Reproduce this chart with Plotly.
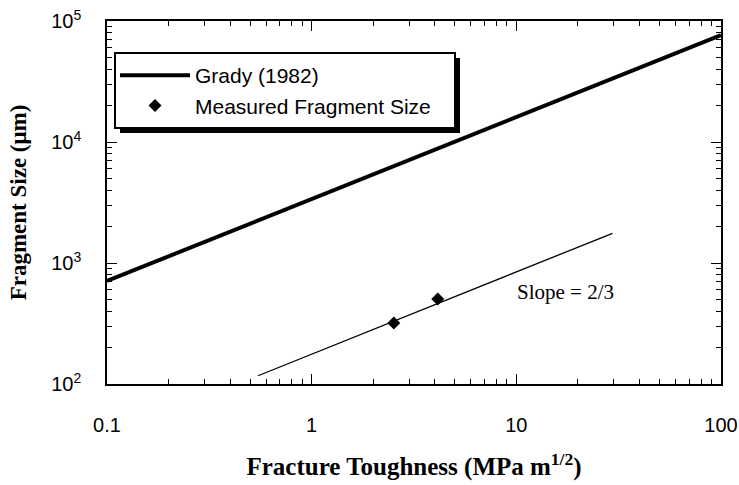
import plotly.graph_objects as go

# Data
grady_x = [0.1, 100]
grady_y = [710, 76600]
slope_x = [0.547, 29.5]
slope_y = [117, 1760]
meas_x = [2.52, 4.13]
meas_y = [319, 503]

x_tickvals = [0.1, 1, 10, 100]
x_ticktext = ["0.1", "1", "10", "100"]
y_tickvals = [100, 1000, 10000, 100000]
y_ticktext = ["10<sup>2</sup>", "10<sup>3</sup>", "10<sup>4</sup>", "10<sup>5</sup>"]

x_minor = [m * 10 ** e for e in (-1, 0, 1) for m in range(2, 10)]
y_minor = [m * 10 ** e for e in (2, 3, 4) for m in range(2, 10)]

fig = go.Figure()
fig.add_trace(go.Scatter(x=grady_x, y=grady_y, mode="lines", name="Grady (1982)",
                         line=dict(color="black", width=4)))
fig.add_trace(go.Scatter(x=meas_x, y=meas_y, mode="markers", name="Measured Fragment Size",
                         marker=dict(symbol="diamond", color="black", size=10)))
fig.add_trace(go.Scatter(x=slope_x, y=slope_y, mode="lines", showlegend=False,
                         line=dict(color="black", width=1.3)))

fig.add_annotation(x=1.242, y=2.76, xref="x", yref="y", text="Slope = 2/3", showarrow=False,
                   font=dict(family="Liberation Serif", size=21, color="black"))

# legend frame: drop shadow + white box with black border
fig.add_shape(type="rect", xref="paper", yref="paper",
              x0=0.0212, x1=0.5749, y0=0.6915, y1=0.898,
              fillcolor="black", line=dict(width=0), layer="above")
fig.add_shape(type="rect", xref="paper", yref="paper",
              x0=0.013, x1=0.5668, y0=0.7052, y1=0.9118,
              fillcolor="white", line=dict(color="black", width=2), layer="above")

axis_common = dict(
    type="log", showgrid=False, zeroline=False, showline=True, linecolor="black",
    linewidth=1.5, mirror="allticks", ticks="inside", ticklen=10, tickwidth=1.3,
    tickcolor="black", automargin=False, tickmode="array", ticklabeloverflow="allow",
    tickfont=dict(family="Liberation Sans", size=20, color="black"),
)

fig.update_layout(
    xaxis=dict(**axis_common, range=[-1, 2], tickvals=x_tickvals,
               ticktext=x_ticktext, ticklabelstandoff=22,
               minor=dict(tickmode="array", tickvals=x_minor, ticks="inside", ticklen=5,
                          tickwidth=1.2, tickcolor="black", showgrid=False),
               title=dict(text="<b>Fracture Toughness (MPa m<sup>1/2</sup>)</b>",
                          font=dict(family="Liberation Serif", size=25, color="black"),
                          standoff=23)),
    yaxis=dict(**axis_common, range=[2, 5], tickvals=y_tickvals,
               ticktext=y_ticktext, ticklabelstandoff=20,
               minor=dict(tickmode="array", tickvals=y_minor, ticks="inside", ticklen=5,
                          tickwidth=1.2, tickcolor="black", showgrid=False),
               title=dict(text="<b>Fragment Size (μm)</b>",
                          font=dict(family="Liberation Serif", size=23, color="black"),
                          standoff=18)),
    width=739, height=485,
    margin=dict(l=107, r=18, t=21, b=101),
    paper_bgcolor="white", plot_bgcolor="white",
    legend=dict(x=0.013, y=0.906, xanchor="left", yanchor="top",
                bgcolor="rgba(0,0,0,0)", borderwidth=0,
                font=dict(family="Liberation Sans", size=21, color="black"),
                itemwidth=70, tracegroupgap=0),
)

fig.write_html("out.html", config={"displayModeBar": False},
               post_script="document.body.style.margin='0';document.body.style.overflow='hidden';")
